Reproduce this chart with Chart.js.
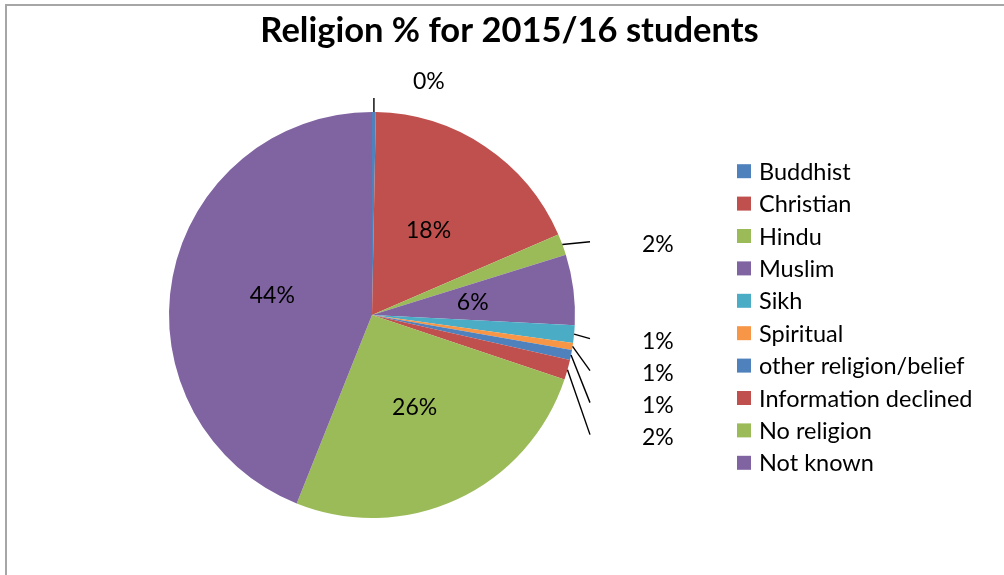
<!DOCTYPE html>
<html>
<head>
<meta charset="utf-8">
<title>Religion % for 2015/16 students</title>
<script src="https://cdn.jsdelivr.net/npm/chart.js@4/dist/chart.umd.min.js"></script>
<style>
  html, body { margin: 0; padding: 0; background: #fff; }
  #frame {
    position: absolute; left: 5px; top: 4px; width: 999px; height: 571px;
    border-top: 2px solid #a6a6a6; border-left: 2px solid #a6a6a6;
  }
  #pie { position: absolute; left: 0; top: 0; }
</style>
</head>
<body>
<div id="frame"></div>
<canvas id="pie" width="1004" height="575"></canvas>
<script>
// share of students by recorded religion, 2015/16 (percent)
const categories = ['Buddhist', 'Christian', 'Hindu', 'Muslim', 'Sikh', 'Spiritual',
  'other religion/belief', 'Information declined', 'No religion', 'Not known'];
const shares = [0.3, 18.2, 1.7, 5.6, 1.4, 0.55, 0.8, 1.6, 25.9, 43.95];

const sliceColours = ['#4f81bd', '#c0504d', '#9bbb59', '#8064a2', '#4bacc6', '#f79646',
  '#4f81bd', '#c0504d', '#9bbb59', '#8064a2'];

const FONT = 'Lato';
const TEXT_SIZE = 23;
const LEGEND_SIZE = 23.5;
const LEGEND_WIDTH = 275;
const LEGEND_ROW = 32.4;

// legend column on the right, registered as a layout box so the pie
// is centred in what is left of the canvas
const legendColumn = {
  id: 'legendColumn',
  install(chart) {
    const box = {
      options: {},
      position: 'right',
      weight: 1000,
      fullSize: false,
      left: 0, top: 0, right: 0, bottom: 0, width: 0, height: 0,
      isHorizontal() { return false; },
      update(maxWidth, maxHeight) {
        this.width = LEGEND_WIDTH;
        this.height = maxHeight;
        return { width: this.width, height: this.height };
      },
      draw() {
        const ctx = chart.ctx;
        const labels = chart.data.labels;
        const colours = chart.data.datasets[0].backgroundColor;
        const midY = (chart.chartArea.top + chart.chartArea.bottom) / 2 + 2;
        const firstY = midY - (labels.length - 1) / 2 * LEGEND_ROW;
        const bx = this.left + 12;
        ctx.save();
        ctx.font = LEGEND_SIZE + 'px ' + FONT;
        ctx.textAlign = 'left';
        ctx.textBaseline = 'middle';
        labels.forEach((label, i) => {
          const y = firstY + i * LEGEND_ROW;
          ctx.fillStyle = colours[i];
          ctx.fillRect(bx, y - 7, 14, 14);
          ctx.fillStyle = '#000';
          ctx.fillText(label, bx + 22, y + 1);
        });
        ctx.restore();
      }
    };
    Chart.layouts.addBox(chart, box);
    chart.$legendColumn = box;
  },
  uninstall(chart) {
    Chart.layouts.removeBox(chart, chart.$legendColumn);
  }
};

// percentage labels: big slices inside, small ones outside with leader lines
const percentLabels = {
  id: 'percentLabels',
  afterDatasetsDraw(chart) {
    const ctx = chart.ctx;
    const meta = chart.getDatasetMeta(0);
    const values = chart.data.datasets[0].data;
    const total = values.reduce((a, b) => a + b, 0);
    let lastY = -Infinity;
    ctx.save();
    ctx.font = TEXT_SIZE + 'px ' + FONT;
    ctx.fillStyle = '#000';
    ctx.strokeStyle = '#000';
    ctx.lineWidth = 1.4;
    meta.data.forEach((arc, i) => {
      const share = values[i] / total;
      const text = Math.round(share * 100) + '%';
      const { x, y, startAngle, endAngle, outerRadius: r } =
        arc.getProps(['x', 'y', 'startAngle', 'endAngle', 'outerRadius'], true);
      const mid = (startAngle + endAngle) / 2;
      const cos = Math.cos(mid), sin = Math.sin(mid);
      if (share >= 0.04) {
        ctx.textAlign = 'center';
        ctx.textBaseline = 'middle';
        ctx.fillText(text, x + cos * r * 0.5, y + sin * r * 0.5);
        return;
      }
      const ex = x + cos * r, ey = y + sin * r;
      ctx.textAlign = 'left';
      ctx.textBaseline = 'middle';
      if (Math.abs(mid + Math.PI / 2) < 0.1) {
        // slice at twelve o'clock: short line straight up
        ctx.beginPath();
        ctx.moveTo(ex, ey);
        ctx.lineTo(ex, ey - 14);
        ctx.stroke();
        ctx.fillText(text, ex + 39, ey - 30);
        return;
      }
      const ly = Math.max(y + sin * r * 1.08 + 3, lastY + 32);
      lastY = ly;
      const lx = x + r + 15;
      ctx.beginPath();
      ctx.moveTo(ex, ey);
      ctx.lineTo(lx, ly);
      ctx.stroke();
      ctx.fillText(text, lx + 52, ly + 3);
    });
    ctx.restore();
  }
};

new Chart(document.getElementById('pie'), {
  type: 'pie',
  data: {
    labels: categories,
    datasets: [{
      data: shares,
      backgroundColor: sliceColours,
      borderWidth: 0
    }]
  },
  options: {
    responsive: false,
    animation: false,
    events: [],
    layout: {
      padding: { left: 19, right: 4, top: 0, bottom: 57 }
    },
    plugins: {
      title: {
        display: true,
        text: 'Religion % for 2015/16 students',
        color: '#000',
        font: { family: FONT, size: 34.5, weight: 'bold' },
        padding: { top: 10, bottom: 60.6 }
      },
      legend: { display: false },
      tooltip: { enabled: false }
    }
  },
  plugins: [legendColumn, percentLabels]
});
</script>
</body>
</html>
